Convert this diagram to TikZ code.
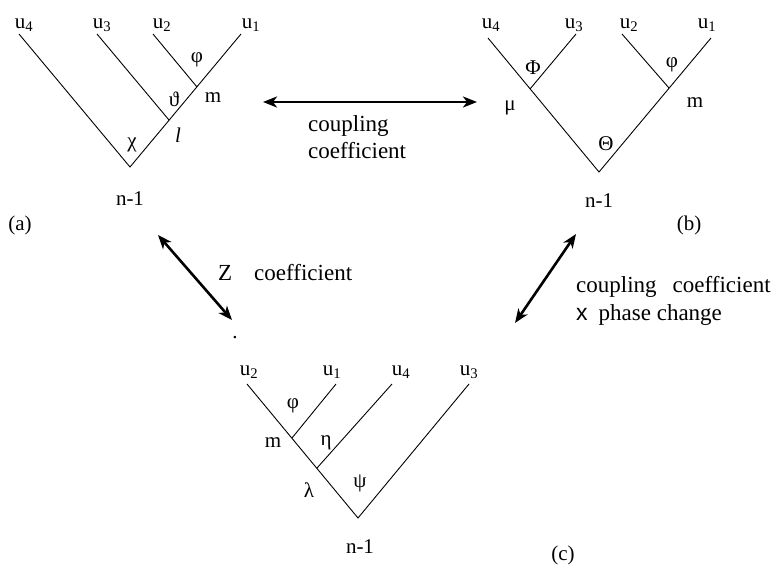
\documentclass[tikz,border=0pt]{standalone}
\usepackage{fontspec}
\setmainfont{Liberation Serif}
\newfontfamily\xsans{Liberation Sans}
\usetikzlibrary{arrows.meta}
\begin{document}
\begin{tikzpicture}[x=1pt,y=-1pt,
  lbl/.style={font=\fontsize{21}{25}\selectfont, inner sep=0pt},
  alab/.style={font=\fontsize{23}{27}\selectfont, inner sep=0pt, anchor=base west},
  treeline/.style={line width=0.9pt},
  biarrow/.style={line width=2.6pt, {Stealth[length=14pt,width=11pt,inset=4pt]}-{Stealth[length=14pt,width=11pt,inset=4pt]}}]
\path[use as bounding box] (0,0) rectangle (780,566);

% ---------- tree (a)
\coordinate (a0) at (130,167);
\coordinate (a4) at (19,34);
\coordinate (a1) at (241,34);
\coordinate (a3) at (97,34);
\coordinate (aj3) at (169,120);
\coordinate (a2) at (153,34);
\coordinate (aj2) at (197,87);
\draw[treeline] (a4) -- (a0) -- (a1);
\draw[treeline] (a3) -- (aj3);
\draw[treeline] (a2) -- (aj2);
\node[lbl,anchor=base] (la4) at (24,28) {u\textsubscript{4}};
\node[lbl,anchor=base] (la3) at (102,28) {u\textsubscript{3}};
\node[lbl,anchor=base] (la2) at (162,28) {u\textsubscript{2}};
\node[lbl,anchor=base] (la1) at (251,28) {u\textsubscript{1}};
\node[lbl] (aphi) at (197,60) {φ};
\node[lbl] (atheta) at (174,99) {ϑ};
\node[lbl] (am) at (213,98) {m};
\node[lbl] (achi) at (132,145) {χ};
\node[lbl] (al) at (178,135) {\textit{l}};
\node[lbl] (an) at (130,199) {n-1};
\node[lbl] (alab) at (20,225) {(a)};

% ---------- tree (b)
\coordinate (b0) at (599,172);
\coordinate (b4) at (488,38);
\coordinate (b1) at (711,38);
\coordinate (bj3) at (530,89);
\coordinate (b3) at (576,34);
\coordinate (bj2) at (669,88);
\coordinate (b2) at (622,34);
\draw[treeline] (b4) -- (b0) -- (b1);
\draw[treeline] (bj3) -- (b3);
\draw[treeline] (b2) -- (bj2);
\node[lbl,anchor=base] (lb4) at (491,28) {u\textsubscript{4}};
\node[lbl,anchor=base] (lb3) at (574,28) {u\textsubscript{3}};
\node[lbl,anchor=base] (lb2) at (629,28) {u\textsubscript{2}};
\node[lbl,anchor=base] (lb1) at (707,28) {u\textsubscript{1}};
\node[lbl] (bPhi) at (533,68) {Φ};
\node[lbl] (bmu) at (510,108) {μ};
\node[lbl] (bphi) at (672,65) {φ};
\node[lbl] (bm) at (695,103) {m};
\node[lbl] (bTheta) at (606,144) {Θ};
\node[lbl] (bn) at (599,201) {n-1};
\node[lbl] (blab) at (689,225) {(b)};

% ---------- tree (c)
\coordinate (c0) at (358,518);
\coordinate (c2) at (247,384);
\coordinate (c3) at (469,384);
\coordinate (cj1) at (292,438);
\coordinate (c1) at (336,384);
\coordinate (cj4) at (317,468);
\coordinate (c4) at (392,384);
\draw[treeline] (c2) -- (c0) -- (c3);
\draw[treeline] (cj1) -- (c1);
\draw[treeline] (cj4) -- (c4);
\node[lbl,anchor=base] (lc2) at (249,375) {u\textsubscript{2}};
\node[lbl,anchor=base] (lc1) at (332,375) {u\textsubscript{1}};
\node[lbl,anchor=base] (lc4) at (401,375) {u\textsubscript{4}};
\node[lbl,anchor=base] (lc3) at (469,375) {u\textsubscript{3}};
\node[lbl] (cphi) at (293,406) {φ};
\node[lbl] (cm) at (273,443) {m};
\node[lbl] (ceta) at (326,443) {η};
\node[lbl] (cpsi) at (360,483) {ψ};
\node[lbl] (clam) at (309,490) {λ};
\node[lbl] (cn) at (360,547) {n-1};
\node[lbl] (clab) at (563,555) {(c)};
\node[lbl] (cdot) at (235,338) {.};

% ---------- arrows
\coordinate (h1) at (263,102);
\coordinate (h2) at (477,102);
\draw[biarrow] (h1) -- (h2);
\node[alab] (t1) at (308,131) {coupling};
\node[alab] (t2) at (308,158) {coefficient};

\coordinate (z1) at (158,235);
\coordinate (z2) at (232,320);
\draw[biarrow] (z1) -- (z2);
\node[alab] (zt) at (218,280) {Z\hspace{22pt}coefficient};

\coordinate (r1) at (576,234);
\coordinate (r2) at (515,323);
\draw[biarrow] (r1) -- (r2);
\node[alab] (rt1) at (576,292) {coupling\hspace{16pt}coefficient};
\node[alab] (rt2) at (576,320) {{\xsans x}\hspace{11pt}phase change};
\end{tikzpicture}
\end{document}
